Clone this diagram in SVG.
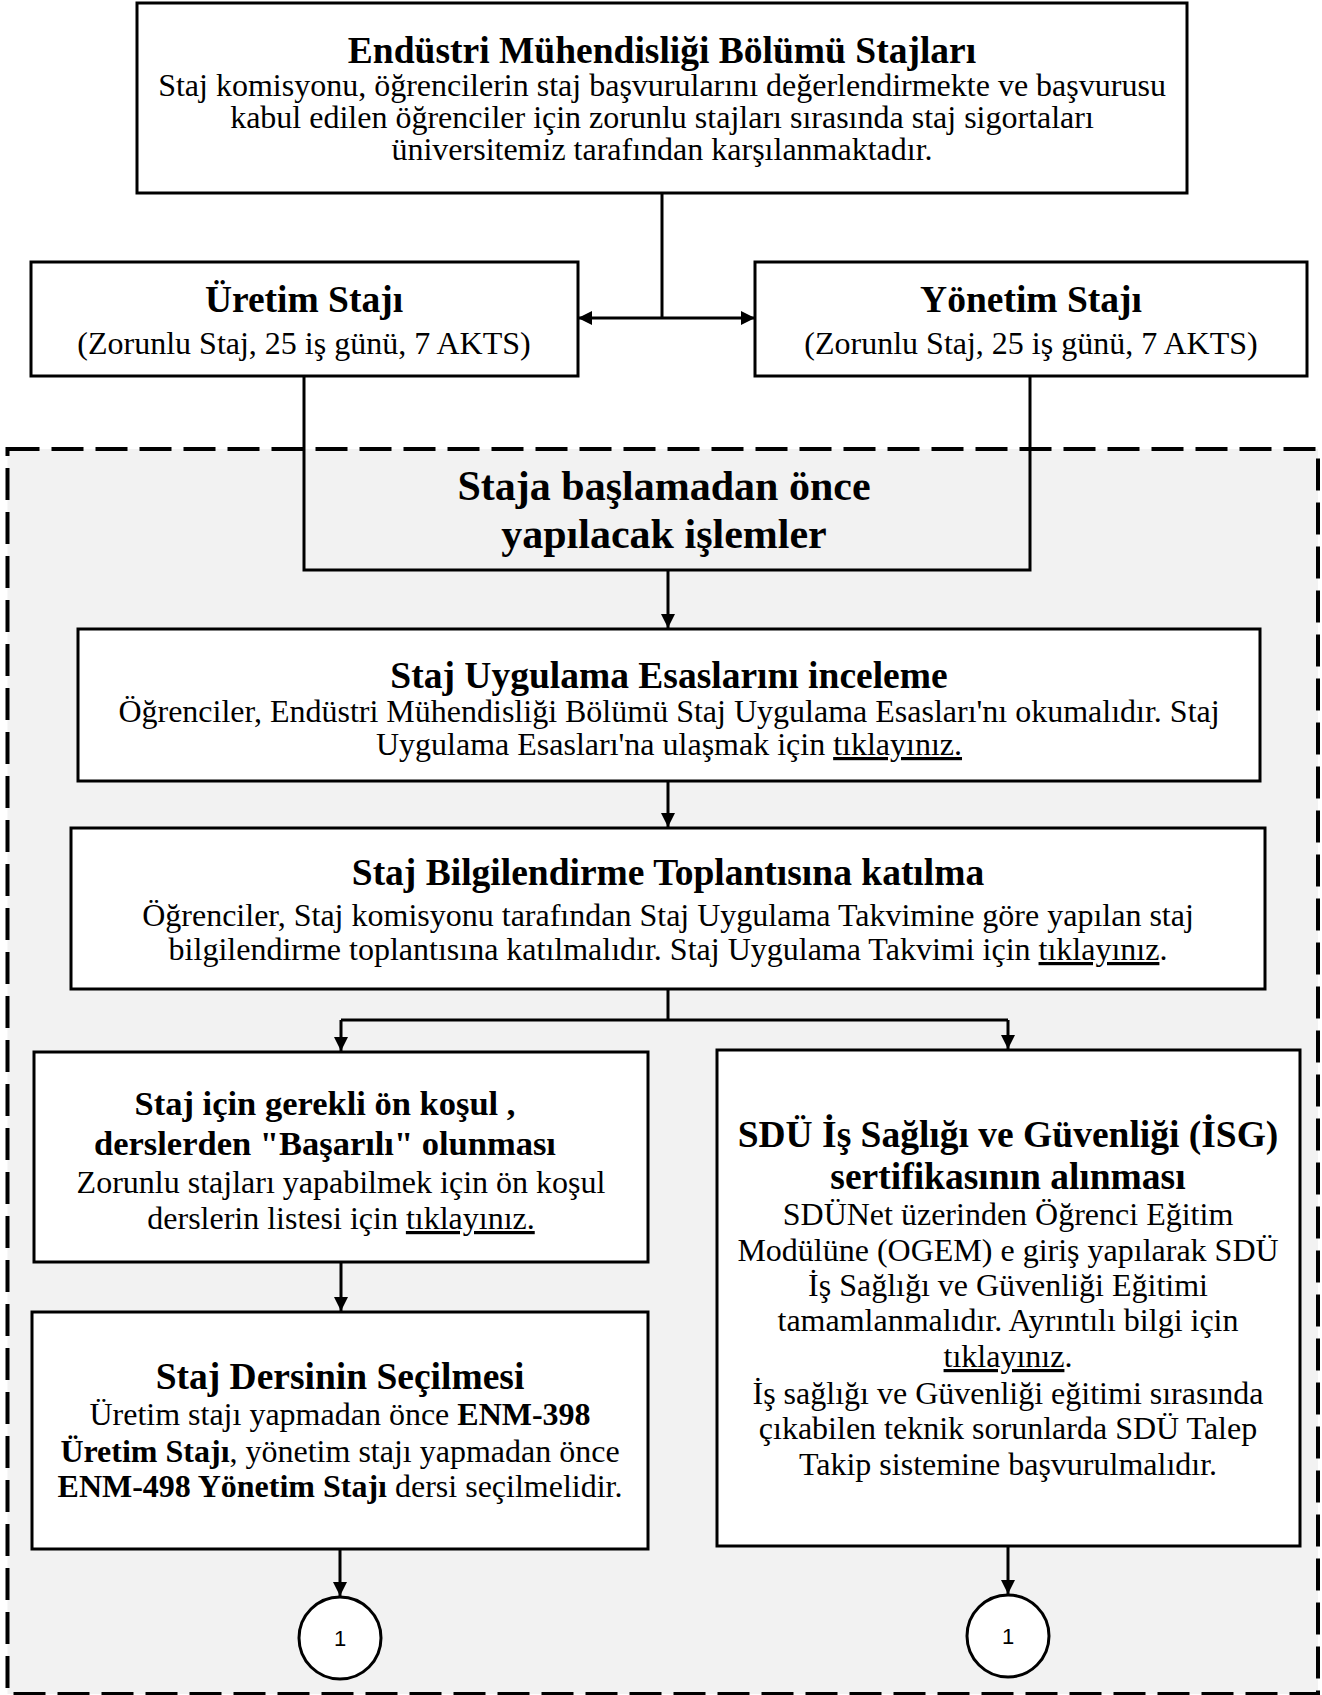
<svg xmlns="http://www.w3.org/2000/svg" width="1322" height="1695" viewBox="0 0 1322 1695">
<defs>
<style>
.box{fill:#fff;stroke:#000;stroke-width:3}
.ln{fill:none;stroke:#000;stroke-width:3}
.t{font-family:"Liberation Serif","Times New Roman",serif;text-anchor:middle;fill:#000}
.h{font-size:37.5px;font-weight:bold}
.b{font-size:32px}
.bb{font-weight:bold}
.u{text-decoration:underline}
.num{font-family:"Liberation Sans",Arial,sans-serif;font-size:22px;text-anchor:middle;fill:#000}
</style>
<marker id="ah" viewBox="0 0 10 10" refX="10" refY="5" markerWidth="15" markerHeight="14" markerUnits="userSpaceOnUse" orient="auto-start-reverse">
<path d="M0,0 L10,5 L0,10 z" fill="#000"/>
</marker>
</defs>
<rect x="0" y="0" width="1322" height="1695" fill="#fff"/>
<g id="region">
<rect x="7.5" y="449" width="1310.5" height="1245" fill="#f2f2f2" stroke="#000" stroke-width="4" stroke-dasharray="32 12"/>
</g>

<g id="connectors">
<path class="ln" d="M662,193 V318"/>
<path class="ln" d="M578,318 H755" marker-start="url(#ah)" marker-end="url(#ah)"/>
<path class="ln" d="M304,376 V570 H1030 V376"/>
<path class="ln" d="M668,570 V628" marker-end="url(#ah)"/>
<path class="ln" d="M668,781 V827" marker-end="url(#ah)"/>
<path class="ln" d="M668,989 V1020"/>
<path class="ln" d="M341,1020 H1008"/>
<path class="ln" d="M341,1020 V1051" marker-end="url(#ah)"/>
<path class="ln" d="M1008,1020 V1049" marker-end="url(#ah)"/>
<path class="ln" d="M341,1262 V1311" marker-end="url(#ah)"/>
<path class="ln" d="M340,1549 V1596" marker-end="url(#ah)"/>
<path class="ln" d="M1008,1546 V1594" marker-end="url(#ah)"/>
</g>

<g id="n-top">
<rect class="box" x="137" y="3" width="1050" height="190"/>
<text class="t h" x="662" y="63">Endüstri Mühendisliği Bölümü Stajları</text>
<text class="t b" x="662" y="96">Staj komisyonu, öğrencilerin staj başvurularını değerlendirmekte ve başvurusu</text>
<text class="t b" x="662" y="128">kabul edilen öğrenciler için zorunlu stajları sırasında staj sigortaları</text>
<text class="t b" x="662" y="160">üniversitemiz tarafından karşılanmaktadır.</text>
</g>

<g id="n-uretim">
<rect class="box" x="31" y="262" width="547" height="114"/>
<text class="t h" x="304" y="312">Üretim Stajı</text>
<text class="t b" x="304" y="354">(Zorunlu Staj, 25 iş günü, 7 AKTS)</text>
</g>

<g id="n-yonetim">
<rect class="box" x="755" y="262" width="552" height="114"/>
<text class="t h" x="1031" y="312">Yönetim Stajı</text>
<text class="t b" x="1031" y="354">(Zorunlu Staj, 25 iş günü, 7 AKTS)</text>
</g>

<g id="n-staja">
<text class="t bb" style="font-size:42px" x="664" y="500">Staja başlamadan önce</text>
<text class="t bb" style="font-size:42px" x="664" y="548">yapılacak işlemler</text>
</g>

<g id="n-esaslar">
<rect class="box" x="78" y="629" width="1182" height="152"/>
<text class="t h" x="669" y="688">Staj Uygulama Esaslarını inceleme</text>
<text class="t b" x="669" y="722">Öğrenciler, Endüstri Mühendisliği Bölümü Staj Uygulama Esasları'nı okumalıdır. Staj</text>
<text class="t b" x="669" y="755">Uygulama Esasları'na ulaşmak için <tspan class="u">tıklayınız.</tspan></text>
</g>

<g id="n-toplanti">
<rect class="box" x="71" y="828" width="1194" height="161"/>
<text class="t h" x="668" y="885">Staj Bilgilendirme Toplantısına katılma</text>
<text class="t b" x="668" y="926">Öğrenciler, Staj komisyonu tarafından Staj Uygulama Takvimine göre yapılan staj</text>
<text class="t b" x="668" y="960">bilgilendirme toplantısına katılmalıdır. Staj Uygulama Takvimi için <tspan class="u">tıklayınız</tspan>.</text>
</g>

<g id="n-onkosul">
<rect class="box" x="34" y="1052" width="614" height="210"/>
<text class="t bb" style="font-size:34.5px" x="325" y="1115">Staj için gerekli ön koşul ,</text>
<text class="t bb" style="font-size:34.5px" x="325" y="1155">derslerden "Başarılı" olunması</text>
<text class="t b" x="341" y="1193">Zorunlu stajları yapabilmek için ön koşul</text>
<text class="t b" x="341" y="1229">derslerin listesi için <tspan class="u">tıklayınız.</tspan></text>
</g>

<g id="n-ders">
<rect class="box" x="32" y="1312" width="616" height="237"/>
<text class="t h" x="340" y="1389">Staj Dersinin Seçilmesi</text>
<text class="t b" x="340" y="1425">Üretim stajı yapmadan önce <tspan class="bb">ENM-398</tspan></text>
<text class="t b" x="340" y="1462"><tspan class="bb">Üretim Stajı</tspan>, yönetim stajı yapmadan önce</text>
<text class="t b" x="340" y="1497"><tspan class="bb">ENM-498 Yönetim Stajı</tspan> dersi seçilmelidir.</text>
</g>

<g id="n-isg">
<rect class="box" x="717" y="1050" width="583" height="496"/>
<text class="t h" x="1008" y="1147">SDÜ İş Sağlığı ve Güvenliği (İSG)</text>
<text class="t h" x="1008" y="1189">sertifikasının alınması</text>
<text class="t b" x="1008" y="1225">SDÜNet üzerinden Öğrenci Eğitim</text>
<text class="t b" x="1008" y="1261">Modülüne (OGEM) e giriş yapılarak SDÜ</text>
<text class="t b" x="1008" y="1296">İş Sağlığı ve Güvenliği Eğitimi</text>
<text class="t b" x="1008" y="1331">tamamlanmalıdır. Ayrıntılı bilgi için</text>
<text class="t b" x="1008" y="1367"><tspan class="u">tıklayınız</tspan>.</text>
<text class="t b" x="1008" y="1404">İş sağlığı ve Güvenliği eğitimi sırasında</text>
<text class="t b" x="1008" y="1439">çıkabilen teknik sorunlarda SDÜ Talep</text>
<text class="t b" x="1008" y="1475">Takip sistemine başvurulmalıdır.</text>
</g>

<g id="n-c1">
<ellipse cx="340" cy="1638" rx="41" ry="41" fill="#fff" stroke="#000" stroke-width="3"/>
<text class="num" x="340" y="1646">1</text>
</g>
<g id="n-c2">
<ellipse cx="1008" cy="1636" rx="41" ry="41" fill="#fff" stroke="#000" stroke-width="3"/>
<text class="num" x="1008" y="1644">1</text>
</g>
</svg>
